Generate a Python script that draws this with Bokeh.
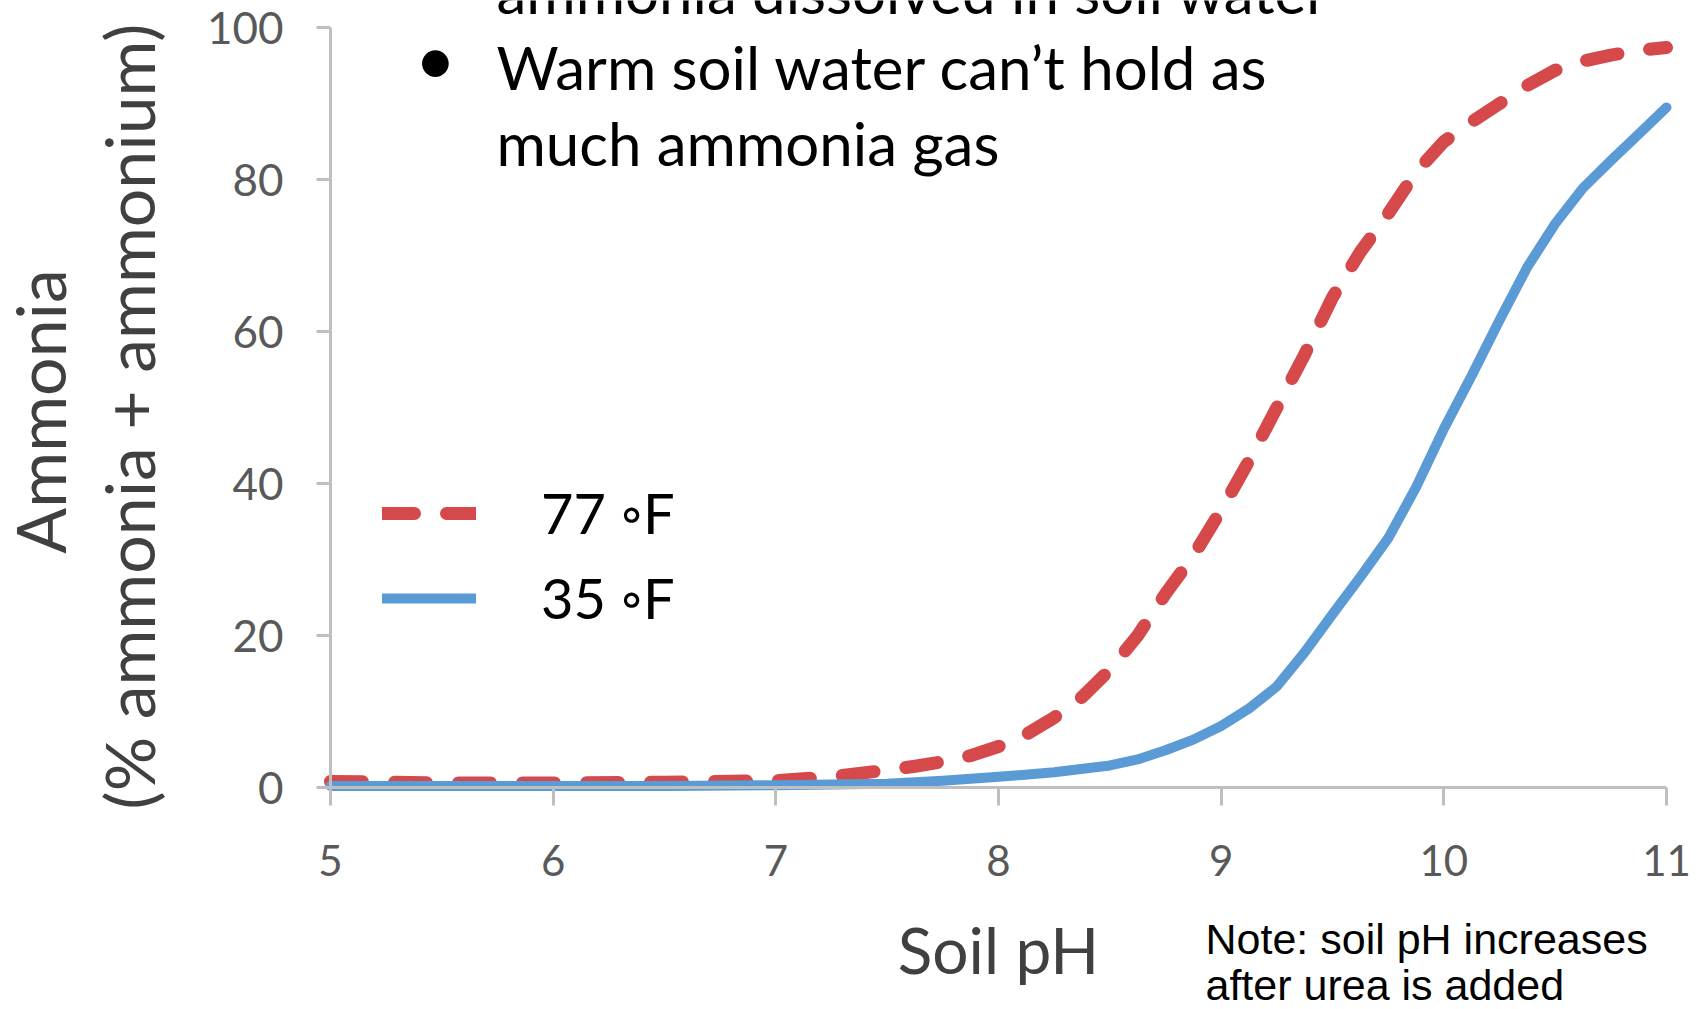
from bokeh.plotting import figure
from bokeh.models import Range1d, Label, Legend, LegendItem, FixedTicker
from bokeh.embed import file_html
from bokeh.resources import INLINE

# ---- data ----
ph_77F = [5.0, 5.5, 6.0, 6.5, 7.0, 7.25, 7.5, 7.625, 7.75, 7.875, 8.0, 8.125, 8.25,
          8.375, 8.5, 8.625, 8.75, 8.875, 9.0, 9.125, 9.25, 9.375, 9.5, 9.625,
          9.75, 9.875, 10.0, 10.125, 10.25, 10.375, 10.5, 10.625, 10.75, 10.875, 11.0]
ammonia_77F = [0.8, 0.6, 0.6, 0.7, 0.9, 1.4, 2.3, 2.8, 3.4, 4.2, 5.4, 7.0, 9.2,
               11.9, 15.5, 20.0, 25.5, 30.5, 36.5, 43.0, 50.0, 57.0, 64.5, 70.5,
               75.5, 81.0, 85.0, 87.6, 90.0, 92.4, 94.4, 95.6, 96.4, 97.0, 97.4]
ph_35F = [5.0, 5.5, 6.0, 6.5, 7.0, 7.25, 7.5, 7.75, 8.0, 8.25, 8.5, 8.625, 8.75,
          8.875, 9.0, 9.125, 9.25, 9.375, 9.5, 9.625, 9.75, 9.875, 10.0, 10.125,
          10.25, 10.375, 10.5, 10.625, 10.75, 10.875, 11.0]
ammonia_35F = [0.2, 0.2, 0.2, 0.2, 0.3, 0.4, 0.5, 0.9, 1.4, 2.0, 2.9, 3.7, 4.9,
               6.3, 8.1, 10.4, 13.3, 17.8, 22.8, 27.7, 32.8, 39.5, 47.2, 54.2,
               61.5, 68.5, 74.2, 78.9, 82.5, 86.0, 89.5]
x_ticks = [5, 6, 7, 8, 9, 10, 11]
y_ticks = [0, 20, 40, 60, 80, 100]
series_labels = ["77 \u25e6F", "35 \u25e6F"]
x_title = "Soil pH"
y_title_lines = ["Ammonia", "(% ammonia + ammonium)"]
bullet_lines = ["ammonia dissolved in soil water",
                "Warm soil water can\u2019t hold as",
                "much ammonia gas"]
note_lines = ["Note: soil pH increases", "after urea is added"]

RED = "#D5494B"
BLUE = "#5B9BD5"
AXIS = "#BFBFBF"
FONT = "Lato"

W, H = 1706, 1009
# frame spans the whole canvas; axes sit at fixed data locations inside it
PX_X = 1336 / 6.0      # pixels per pH unit
PX_Y = 759.8 / 100.0   # pixels per percent
x_rng = Range1d(5 - 330 / PX_X, 11 + (W - 1666) / PX_X)
y_rng = Range1d(-(H - 787) / PX_Y, 100 + 27.2 / PX_Y)

p = figure(width=W, height=H, x_range=x_rng, y_range=y_rng,
           output_backend="svg", toolbar_location=None,
           min_border_left=0, min_border_right=0, min_border_top=0,
           min_border_bottom=0)
p.outline_line_color = None
p.xgrid.visible = False
p.ygrid.visible = False
p.background_fill_color = "white"

r77 = p.line(ph_77F, ammonia_77F, line_color=RED, line_width=13,
             line_dash="32 32", line_cap="round", line_join="round")
r35 = p.line(ph_35F, ammonia_35F, line_color=BLUE, line_width=10,
             line_cap="round", line_join="round")

# axes
xa = p.xaxis[0]
xa.fixed_location = 0
xa.bounds = (5, 11)
xa.ticker = FixedTicker(ticks=x_ticks)
xa.major_tick_out = 18
xa.major_tick_in = 0
xa.minor_tick_out = 0
xa.minor_tick_in = 0
xa.axis_line_color = AXIS
xa.axis_line_width = 3
xa.major_tick_line_color = AXIS
xa.major_tick_line_width = 3
xa.major_label_text_font = FONT
xa.major_label_text_font_size = "42px"
xa.major_label_text_color = "#595959"
xa.major_label_standoff = 39

ya = p.yaxis[0]
ya.fixed_location = 5
ya.bounds = (0, 100)
ya.ticker = FixedTicker(ticks=y_ticks)
ya.major_tick_out = 14
ya.major_tick_in = 0
ya.minor_tick_out = 0
ya.minor_tick_in = 0
ya.axis_line_color = AXIS
ya.axis_line_width = 3
ya.major_tick_line_color = AXIS
ya.major_tick_line_width = 3
ya.major_label_text_font = FONT
ya.major_label_text_font_size = "44px"
ya.major_label_text_color = "#595959"
ya.major_label_standoff = 33

# legend
legend = Legend(items=[LegendItem(label=series_labels[0], renderers=[r77]),
                       LegendItem(label=series_labels[1], renderers=[r35])],
                location=(382, 378), glyph_width=94, glyph_height=40,
                label_height=40, label_standoff=65, spacing=18, padding=0,
                margin=0, border_line_color=None, background_fill_alpha=0,
                label_text_font=FONT, label_text_font_size="56px",
                label_text_color="black")
p.add_layout(legend)


def label(x, y, text, size, font=FONT, color="black", align="left", angle=0.0):
    p.add_layout(Label(x=x, y=y, x_units="screen", y_units="screen", text=text,
                       angle=angle, text_align=align, text_baseline="middle",
                       text_font=font, text_font_size=size, text_color=color))


# axis titles
label(998, 60, x_title, "64px", color="#404040", align="center")
label(39, 598, y_title_lines[0], "68px", color="#404040", align="center", angle=1.5707963)
label(128, 593, y_title_lines[1], "68px", color="#404040", align="center", angle=1.5707963)

# bullet text (top, partially cut off as in the original)
for txt, yy in zip(bullet_lines, [1019, 943, 867]):
    label(496, yy, txt, "60px")
label(414, 953, "\u2022", "72px")

# note
for txt, yy in zip(note_lines, [71, 25]):
    label(1205, yy, txt, "43px", font="Liberation Sans")

open("out.html", "w").write(file_html(p, INLINE))
